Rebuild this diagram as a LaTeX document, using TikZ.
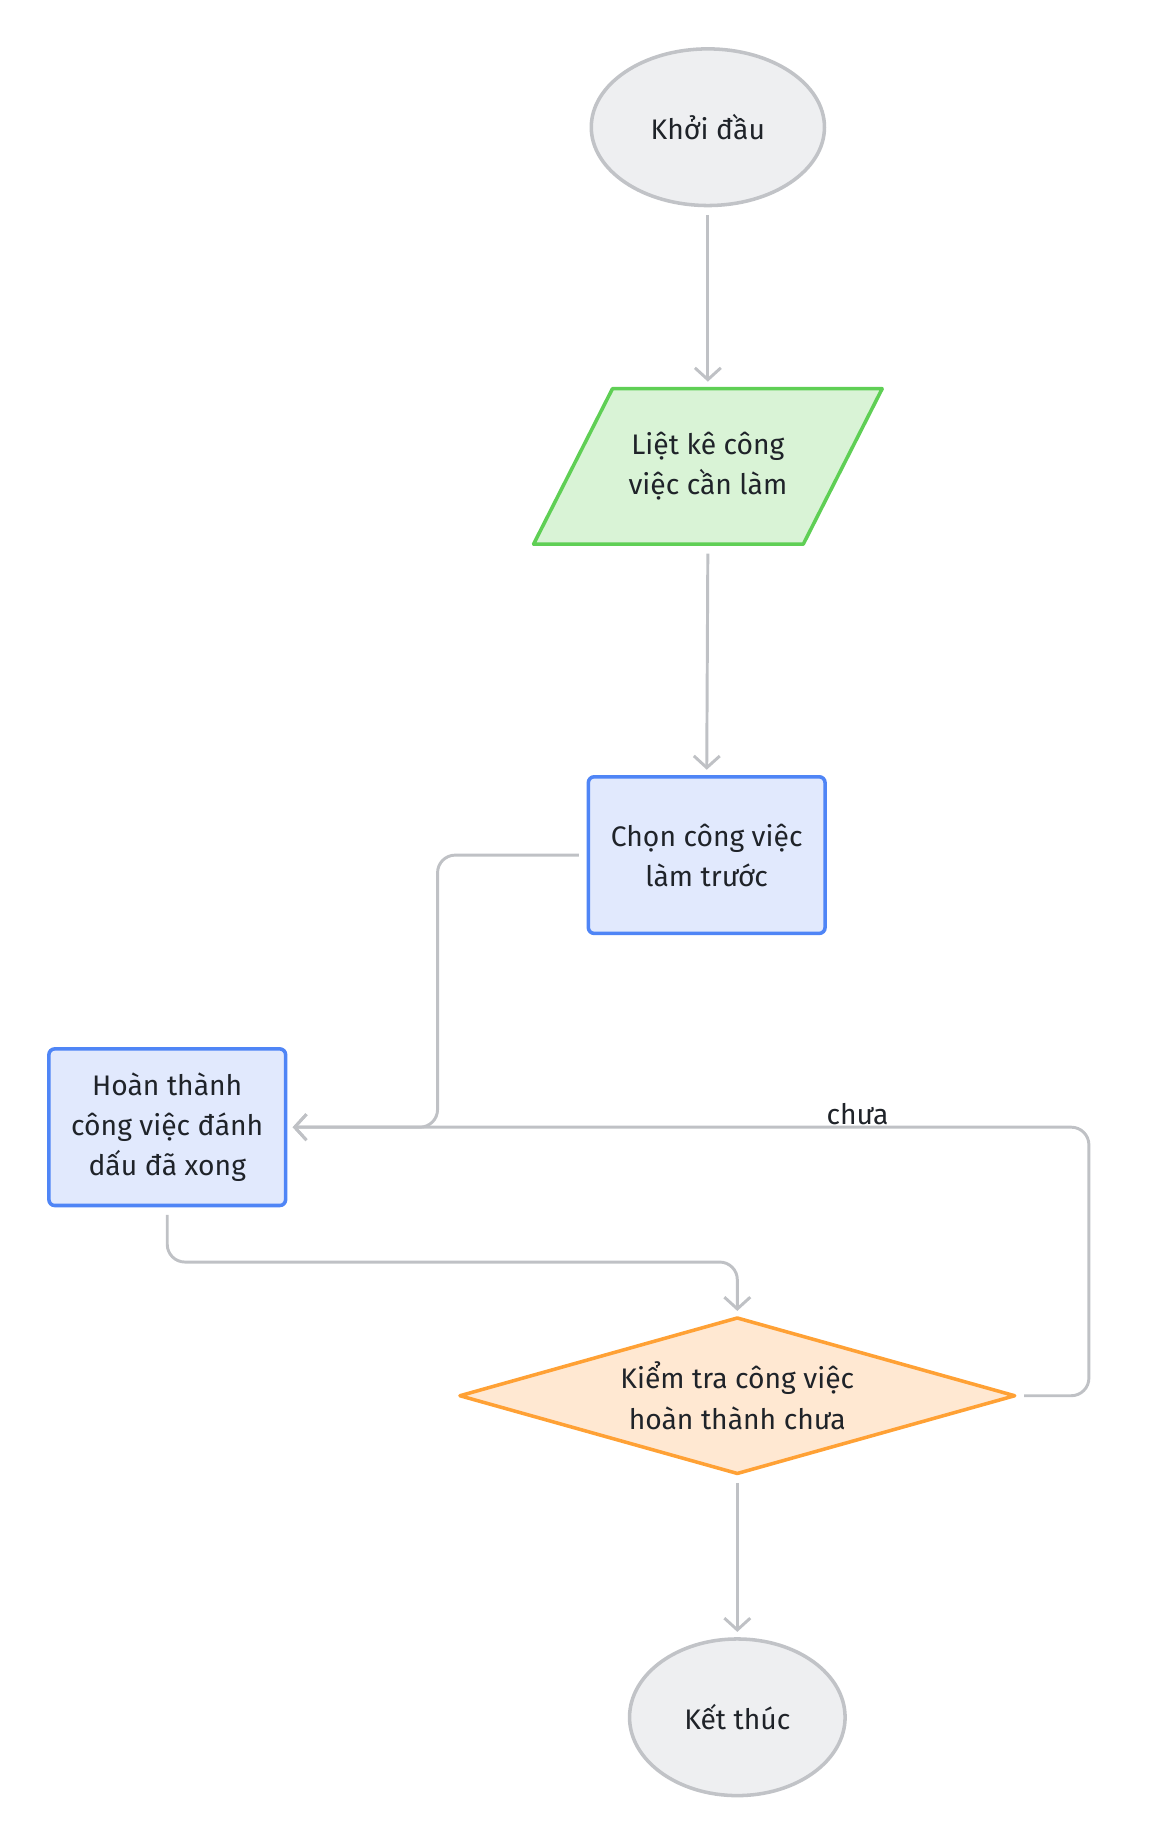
\documentclass[tikz,border=0pt]{standalone}
\usepackage{fontspec}
\setmainfont{Fira Sans}
\usetikzlibrary{shapes.geometric,arrows.meta,backgrounds}
\definecolor{linegray}{HTML}{BFC1C5}
\definecolor{termfill}{HTML}{EEEFF1}
\definecolor{termdraw}{HTML}{C1C3C7}
\definecolor{iofill}{HTML}{D9F3D6}
\definecolor{iodraw}{HTML}{5FCF55}
\definecolor{procfill}{HTML}{E1E9FD}
\definecolor{procdraw}{HTML}{4F85F6}
\definecolor{decfill}{HTML}{FFE8D2}
\definecolor{decdraw}{HTML}{FFA135}
\definecolor{txt}{HTML}{1F2329}
\begin{document}
\begin{tikzpicture}[x=1pt,y=-1pt,
        every node/.style={font=\fontsize{24}{34}\selectfont, text=txt, align=center, line width=3pt, outer sep=0pt},
        term/.style={ellipse, draw=termdraw, fill=termfill, minimum height=133},
        io/.style={rectangle, minimum width=229, minimum height=132},
        proc/.style={rectangle, rounded corners=5, draw=procdraw, fill=procfill, minimum width=201, minimum height=133},
        dec/.style={diamond, aspect=3.5, inner sep=0pt, draw=decdraw, fill=decfill, minimum width=471, minimum height=132, line join=round},
        conn/.style={draw=linegray, line width=2.5pt, rounded corners=15, -{Straight Barb[length=10pt,width=22pt]}, shorten <=8pt, shorten >=6pt}]
    \useasboundingbox (0,0) rectangle (980,1569);
    \node[term, minimum width=198] (start) at (601,108) {Khởi đầu};
    \node[io] (list) at (601,396) {Liệt kê công\\việc cần làm};
    \begin{scope}[on background layer]
        \draw[draw=iodraw, fill=iofill, line width=3pt, line join=round]([xshift=33.5pt]list.north west)--([xshift=33.5pt]list.north east)--([xshift=-33.5pt]list.south east)--([xshift=-33.5pt]list.south west)--cycle;
    \end{scope}
    \node[proc] (pick) at (600,726) {Chọn công việc\\làm trước};
    \node[proc] (done) at (142,957) {Hoàn thành\\công việc đánh\\dấu đã xong};
    \node[dec] (check) at (626,1185) {Kiểm tra công việc\\hoàn thành chưa};
    \node[term, minimum width=183] (stop) at (626,1458) {Kết thúc};
    \draw[conn] (start.south) -- (list.north);
    \draw[conn] (list.south) -- (pick.north);
    \draw[conn] (pick.west) -- ++(-128,0) |- (done.east);
    \draw[conn] (done.south) -- ++(0,48) -| (check.north);
    \draw[conn] (check.east) -- ++(63,0) |- node[pos=.644, above, inner sep=2pt]{chưa} (done.east);
    \draw[conn] (check.south) -- (stop.north);
\end{tikzpicture}
\end{document}
